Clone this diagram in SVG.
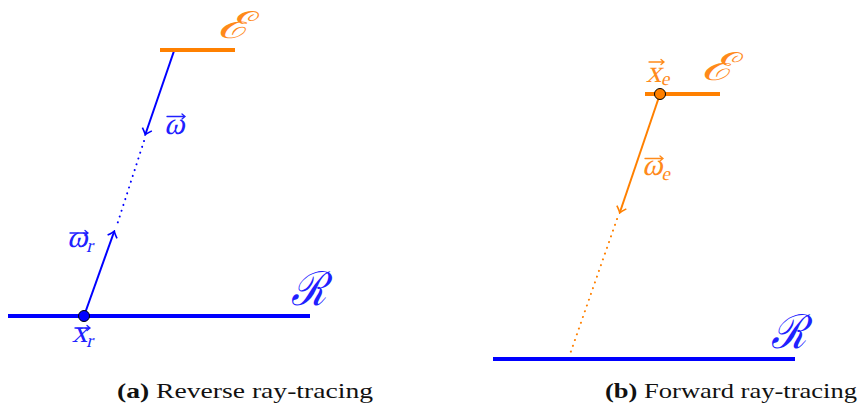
<svg xmlns="http://www.w3.org/2000/svg" width="859" height="410" viewBox="0 0 859 410">
<style>
.surf{stroke-width:4;fill:none}
.blue{stroke:#0000ff}
.orange{stroke:#ff8000}
.ray{stroke-width:2;fill:none}
.dots{stroke-width:2;fill:none;stroke-dasharray:0.1 6;stroke-linecap:round}
.bl{fill:#2020ff}
.or{fill:#ff8a1a}
.vb{stroke:#2020ff;stroke-width:1.3;fill:none;stroke-linecap:round}
.vo{stroke:#ff8a1a;stroke-width:1.3;fill:none;stroke-linecap:round}
.math{font-family:"Liberation Serif",serif;font-style:normal;font-size:31px}
.sub{font-size:19px}
.script{font-family:"DejaVu Serif","Liberation Serif",serif;font-style:italic;font-size:32px}
.cap{font-family:"Liberation Serif",serif;font-size:21px;fill:#111}
</style>
<defs>
<marker id="ab" viewBox="-6 -6 8 12" markerWidth="8" markerHeight="12" refX="0" refY="0" orient="auto" markerUnits="userSpaceOnUse">
<path d="M-5,-5 Q-1,-1 1,0 Q-1,1 -5,5" fill="none" stroke="#0000ff" stroke-width="1.6"/>
</marker>
<marker id="ao" viewBox="-6 -6 8 12" markerWidth="8" markerHeight="12" refX="0" refY="0" orient="auto" markerUnits="userSpaceOnUse">
<path d="M-5,-5 Q-1,-1 1,0 Q-1,1 -5,5" fill="none" stroke="#ff8000" stroke-width="1.6"/>
</marker>
</defs>
<g id="connectors">
<line class="ray blue" x1="174" y1="51" x2="145.5" y2="134" marker-end="url(#ab)"/>
<line class="dots blue" x1="144" y1="141" x2="116" y2="228"/>
<line class="ray blue" x1="84" y1="316" x2="114" y2="232" marker-end="url(#ab)"/>
<line class="ray orange" x1="660" y1="94" x2="620" y2="212" marker-end="url(#ao)"/>
<line class="dots orange" x1="617" y1="219" x2="569" y2="357"/>
</g>
<g id="emitter-a">
<line class="surf orange" x1="160" y1="50" x2="235" y2="50"/>
<text class="script or" transform="translate(217,38) scale(1.72,1.16)">ℰ</text>
</g>
<g id="receiver-a">
<line class="surf blue" x1="8" y1="316" x2="310" y2="316"/>
<text class="script bl" transform="translate(291,305) scale(1.02,1.17)" style="font-size:40px">ℛ</text>
<circle cx="84" cy="316" r="5.5" fill="#0000ff" stroke="#000" stroke-width="1"/>
</g>
<g id="labels-a">
<text class="math bl" transform="translate(164,134) skewX(-14)">ω</text>
<path class="vb" d="M167,116.5 H185 M182,114 L185,116.5 L182,119"/>
<text class="math bl" transform="translate(67,247) skewX(-14)">ω<tspan class="sub" dy="5">r</tspan></text>
<path class="vb" d="M70,233 H88 M85,230.5 L88,233 L85,235.5"/>
<text class="math bl" transform="translate(72,342) skewX(-14)">x<tspan class="sub" dy="5">r</tspan></text>
<path class="vb" d="M75,328 H90 M87,325.5 L90,328 L87,330.5"/>
</g>
<g id="emitter-b">
<line class="surf orange" x1="645" y1="94" x2="720" y2="94"/>
<text class="script or" transform="translate(701,80) scale(1.72,1.2)">ℰ</text>
<circle cx="660" cy="94" r="5.5" fill="#ff8000" stroke="#000" stroke-width="1"/>
<text class="math or" transform="translate(646,82) skewX(-14)">x<tspan class="sub" dy="3">e</tspan></text>
<path class="vo" d="M649,62 H664 M661,59.5 L664,62 L661,64.5"/>
<text class="math or" transform="translate(642,175) skewX(-14)">ω<tspan class="sub" dy="5">e</tspan></text>
<path class="vo" d="M645,158.5 H663 M660,156 L663,158.5 L660,161"/>
</g>
<g id="receiver-b">
<line class="surf blue" x1="493" y1="359" x2="795" y2="359"/>
<text class="script bl" transform="translate(771,348) scale(1.02,1.17)" style="font-size:40px">ℛ</text>
</g>
<g id="captions">
<text class="cap" x="117" y="398" textLength="256" lengthAdjust="spacingAndGlyphs"><tspan font-weight="bold">(a)</tspan> Reverse ray-tracing</text>
<text class="cap" x="605" y="398" textLength="252" lengthAdjust="spacingAndGlyphs"><tspan font-weight="bold">(b)</tspan> Forward ray-tracing</text>
</g>
</svg>
